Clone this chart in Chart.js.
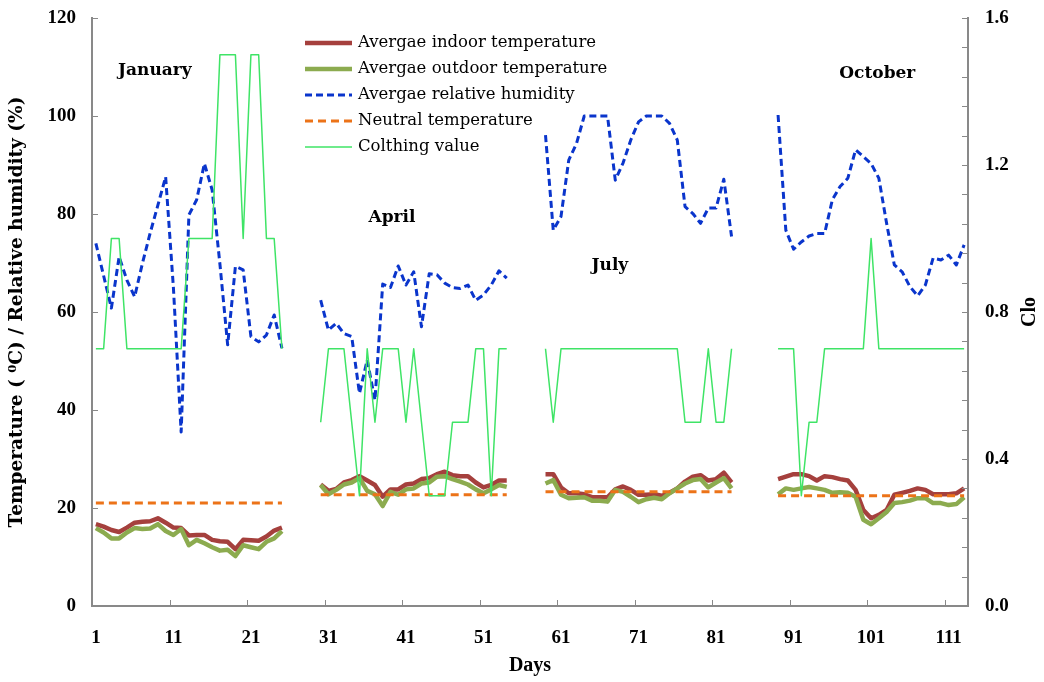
<!DOCTYPE html>
<html lang="en">
<head>
<meta charset="UTF-8" />
<title>Temperature, humidity and clothing value</title>
<script src="https://cdn.jsdelivr.net/npm/chart.js"></script>
<style>
  html, body { margin: 0; padding: 0; background: #fff; }
  #wrap { width: 1044px; height: 682px; position: relative; }
</style>
</head>
<body>
<div id="wrap"><canvas id="chart"></canvas></div>
<script>
  // first day of each measured month (days run 1..113)
  const segmentStart = [1, 30, 59, 89];
  const monthNames = ['January', 'April', 'July', 'October'];
  const xTickLabels = [1, 11, 21, 31, 41, 51, 61, 71, 81, 91, 101, 111];
  const yTicks = [0, 20, 40, 60, 80, 100, 120];
  const cloLabels = [0.0, 0.4, 0.8, 1.2, 1.6];

  const indoorJan = [16.7, 16.2, 15.5, 15.1, 16.0, 17.0, 17.2, 17.3, 17.9, 17.0, 16.0, 15.9, 14.4, 14.5, 14.5, 13.5, 13.2, 13.1, 11.6, 13.5, 13.4, 13.3, 14.2, 15.4, 16.0];
  const indoorApr = [24.8, 23.5, 23.9, 25.2, 25.7, 26.5, 25.6, 24.7, 22.3, 23.8, 23.8, 24.8, 25.0, 25.9, 26.1, 26.9, 27.4, 26.7, 26.5, 26.5, 25.2, 24.2, 24.7, 25.6, 25.6];
  const indoorJul = [26.9, 26.9, 24.2, 23.0, 23.0, 22.8, 22.2, 22.2, 22.2, 23.8, 24.4, 23.7, 22.7, 22.7, 22.8, 22.5, 23.1, 24.0, 25.4, 26.4, 26.7, 25.6, 25.9, 27.2, 25.2];
  const indoorOct = [25.9, 26.4, 26.9, 26.9, 26.5, 25.6, 26.5, 26.3, 25.9, 25.6, 23.7, 19.6, 17.9, 18.6, 19.6, 22.7, 23.1, 23.5, 24.0, 23.7, 22.8, 22.8, 22.8, 23.0, 24.0];

  const outdoorJan = [15.9, 15.0, 13.8, 13.8, 15.0, 15.9, 15.7, 15.8, 16.7, 15.3, 14.5, 15.7, 12.4, 13.5, 12.8, 12.0, 11.3, 11.5, 10.2, 12.4, 12.0, 11.6, 13.1, 13.8, 15.3];
  const outdoorApr = [24.7, 22.8, 23.7, 24.8, 25.2, 26.1, 23.5, 22.8, 20.4, 23.3, 22.7, 23.8, 24.0, 25.0, 25.2, 26.4, 26.5, 25.9, 25.4, 24.8, 23.8, 23.0, 23.8, 24.7, 24.3];
  const outdoorJul = [25.0, 25.7, 22.7, 22.0, 22.1, 22.2, 21.5, 21.5, 21.3, 23.7, 23.3, 22.3, 21.2, 21.8, 22.1, 21.8, 23.0, 24.0, 25.0, 25.7, 25.9, 24.2, 25.2, 26.1, 24.0];
  const outdoorOct = [22.8, 24.0, 23.7, 24.0, 24.3, 24.0, 23.7, 23.1, 23.2, 23.1, 22.3, 17.6, 16.7, 17.9, 19.2, 21.0, 21.2, 21.5, 22.0, 22.0, 21.0, 21.0, 20.6, 20.8, 22.2];

  const humidityJan = [74.0, 67.4, 60.8, 71.3, 66.5, 63.1, 69.9, 76.1, 81.8, 87.6, 65.0, 35.5, 79.8, 82.9, 90.3, 84.9, 69.8, 53.3, 69.3, 68.6, 55.0, 53.9, 55.3, 59.4, 52.6];
  const humidityApr = [62.4, 56.3, 57.7, 55.6, 55.0, 43.4, 50.2, 42.0, 65.7, 65.0, 69.4, 65.5, 68.2, 57.0, 67.8, 67.6, 65.9, 65.0, 64.8, 65.5, 62.4, 63.5, 65.5, 68.4, 66.9];
  const humidityJul = [96.1, 76.7, 79.5, 91.0, 94.4, 100.0, 100.0, 100.0, 100.0, 86.9, 90.4, 95.1, 98.8, 100.0, 100.0, 100.0, 98.5, 95.1, 81.5, 80.1, 78.1, 81.2, 81.2, 87.1, 75.4];
  const humidityOct = [100.2, 76.7, 72.8, 74.3, 75.5, 76.0, 76.0, 82.9, 85.6, 87.3, 93.1, 91.7, 90.3, 87.3, 78.1, 69.6, 68.2, 65.2, 63.3, 65.5, 71.0, 70.6, 71.6, 69.6, 73.7];

  const neutralTemp = [21.0, 22.7, 23.3, 22.5];

  const cloJan = [0.7, 0.7, 1.0, 1.0, 0.7, 0.7, 0.7, 0.7, 0.7, 0.7, 0.7, 0.7, 1.0, 1.0, 1.0, 1.0, 1.5, 1.5, 1.5, 1.0, 1.5, 1.5, 1.0, 1.0, 0.7];
  const cloApr = [0.5, 0.7, 0.7, 0.7, 0.5, 0.3, 0.7, 0.5, 0.7, 0.7, 0.7, 0.5, 0.7, 0.5, 0.3, 0.3, 0.3, 0.5, 0.5, 0.5, 0.7, 0.7, 0.3, 0.7, 0.7];
  const cloJul = [0.7, 0.5, 0.7, 0.7, 0.7, 0.7, 0.7, 0.7, 0.7, 0.7, 0.7, 0.7, 0.7, 0.7, 0.7, 0.7, 0.7, 0.7, 0.5, 0.5, 0.5, 0.7, 0.5, 0.5, 0.7];
  const cloOct = [0.7, 0.7, 0.7, 0.3, 0.5, 0.5, 0.7, 0.7, 0.7, 0.7, 0.7, 0.7, 1.0, 0.7, 0.7, 0.7, 0.7, 0.7, 0.7, 0.7, 0.7, 0.7, 0.7, 0.7, 0.7];

  // join the four month blocks into one series, with a break between them
  function joinMonths(blocks) {
    const pts = [];
    blocks.forEach((vals, k) => {
      vals.forEach((v, i) => pts.push({ x: segmentStart[k] + i, y: v }));
      if (k < blocks.length - 1) pts.push({ x: segmentStart[k] + vals.length, y: null });
    });
    return pts;
  }

  function neutralPoints() {
    const pts = [];
    neutralTemp.forEach((v, k) => {
      pts.push({ x: segmentStart[k], y: v });
      pts.push({ x: segmentStart[k] + indoorJan.length - 1, y: v });
      if (k < neutralTemp.length - 1) pts.push({ x: segmentStart[k] + indoorJan.length, y: null });
    });
    return pts;
  }

  const SERIF = "'Liberation Serif', serif";
  const LEGEND_FONT = "'DejaVu Serif', serif";
  const AXIS = '#898989';

  // small tick marks pointing into the plot, like the original
  const innerTicks = {
    id: 'innerTicks',
    afterDraw(chart) {
      const { ctx } = chart;
      const { x, y, y2 } = chart.scales;
      ctx.save();
      ctx.strokeStyle = AXIS;
      ctx.lineWidth = 1;
      ctx.beginPath();
      x.ticks.forEach(t => {
        const px = Math.round(x.getPixelForValue(t.value)) + 0.5;
        ctx.moveTo(px, x.top); ctx.lineTo(px, x.top - 6);
      });
      y.ticks.forEach(t => {
        const py = Math.round(y.getPixelForValue(t.value)) + 0.5;
        ctx.moveTo(y.right, py); ctx.lineTo(y.right + 6, py);
      });
      y2.ticks.forEach(t => {
        const py = Math.round(y2.getPixelForValue(t.value)) + 0.5;
        ctx.moveTo(y2.left, py); ctx.lineTo(y2.left - 6, py);
      });
      ctx.stroke();
      ctx.restore();
    }
  };

  const monthAt = [[8.6, 109.2], [39.2, 79.2], [67.3, 69.4], [101.8, 108.6]];

  const annotations = {
    id: 'annotations',
    afterDraw(chart) {
      const { ctx } = chart;
      const { x, y } = chart.scales;
      ctx.save();
      ctx.fillStyle = '#000';
      ctx.textAlign = 'center';
      ctx.textBaseline = 'middle';
      ctx.font = "bold 17px 'DejaVu Serif', serif";
      monthNames.forEach((m, i) => {
        ctx.fillText(m, x.getPixelForValue(monthAt[i][0]), y.getPixelForValue(monthAt[i][1]));
      });

      // secondary axis title
      ctx.font = 'bold 20px ' + SERIF;
      ctx.translate(1030, (chart.chartArea.top + chart.chartArea.bottom) / 2);
      ctx.rotate(-Math.PI / 2);
      ctx.fillText('Clo', 0, 0);
      ctx.restore();

      // legend inside the plot
      ctx.save();
      ctx.font = '16.5px ' + LEGEND_FONT;
      ctx.textBaseline = 'middle';
      ctx.textAlign = 'left';
      chart.data.datasets.forEach((ds, i) => {
        const ly = 43 + i * 26;
        ctx.strokeStyle = ds.borderColor;
        ctx.lineWidth = ds.borderWidth;
        ctx.setLineDash(ds.borderDash || []);
        ctx.beginPath();
        ctx.moveTo(305, ly); ctx.lineTo(352, ly);
        ctx.stroke();
        ctx.setLineDash([]);
        ctx.fillStyle = '#000';
        ctx.fillText(ds.label, 358, ly);
      });
      ctx.restore();
    }
  };

  new Chart(document.getElementById('chart'), {
    type: 'line',
    data: {
      datasets: [
        { label: 'Avergae indoor temperature', data: joinMonths([indoorJan, indoorApr, indoorJul, indoorOct]),
          borderColor: '#a5403d', borderWidth: 4.5, yAxisID: 'y', order: 4 },
        { label: 'Avergae outdoor temperature', data: joinMonths([outdoorJan, outdoorApr, outdoorJul, outdoorOct]),
          borderColor: '#8cab4f', borderWidth: 4.5, yAxisID: 'y', order: 3 },
        { label: 'Avergae relative humidity', data: joinMonths([humidityJan, humidityApr, humidityJul, humidityOct]),
          borderColor: '#0a35cc', borderWidth: 3, borderDash: [7, 4], yAxisID: 'y', order: 2 },
        { label: 'Neutral temperature', data: neutralPoints(),
          borderColor: '#ec7318', borderWidth: 3, borderDash: [8, 5], yAxisID: 'y', order: 1 },
        { label: 'Colthing value', data: joinMonths([cloJan, cloApr, cloJul, cloOct]),
          borderColor: '#3fe466', borderWidth: 1.5, yAxisID: 'y2', order: 0 }
      ]
    },
    options: {
      responsive: true,
      maintainAspectRatio: false,
      animation: false,
      spanGaps: false,
      elements: {
        point: { radius: 0, hoverRadius: 0 },
        line: { tension: 0, borderCapStyle: 'butt', borderJoinStyle: 'round' }
      },
      layout: { padding: { top: 18, left: 0, right: 0, bottom: 0 } },
      plugins: {
        legend: { display: false },
        tooltip: { enabled: false }
      },
      scales: {
        x: {
          type: 'linear',
          min: 0.5,
          max: 113.5,
          afterBuildTicks: s => { s.ticks = xTickLabels.map(d => ({ value: d - 0.5 })); },
          afterFit: s => { s.height = 76; },
          grid: { display: false, drawTicks: true, tickLength: 17 },
          border: { color: AXIS, width: 2 },
          ticks: {
            autoSkip: false, maxRotation: 0, padding: 4, labelOffset: 3.9,
            color: '#000', font: { family: SERIF, size: 19, weight: 'bold' },
            callback: v => String(v + 0.5)
          },
          title: { display: true, text: 'Days', color: '#000', padding: { top: 0, bottom: 4 },
                   font: { family: SERIF, size: 20, weight: 'bold' } }
        },
        y: {
          position: 'left',
          min: 0,
          max: 120,
          afterBuildTicks: s => { s.ticks = yTicks.map(v => ({ value: v })); },
          afterFit: s => { s.width = 92; },
          grid: { display: false, drawTicks: true, tickLength: 16 },
          border: { color: AXIS, width: 2 },
          ticks: { padding: 0, color: '#000', font: { family: SERIF, size: 19, weight: 'bold' } },
          title: { display: true, text: 'Temperature ( \u2070C) / Relative humidity (%)', color: '#000',
                   padding: { top: 6, bottom: 0 }, font: { family: "'DejaVu Serif', serif", size: 18.5, weight: 'bold' } }
        },
        y2: {
          position: 'right',
          min: 0,
          max: 1.6,
          afterBuildTicks: s => {
            const t = [];
            for (let i = 0; i <= 20; i++) t.push({ value: i * 0.08 });
            s.ticks = t;
          },
          afterFit: s => { s.width = 76; },
          grid: { display: false, drawTicks: true, tickLength: 17 },
          border: { color: AXIS, width: 2 },
          ticks: {
            padding: 0, color: '#000', font: { family: SERIF, size: 19, weight: 'bold' },
            callback: v => {
              const hit = cloLabels.find(c => Math.abs(c - v) < 1e-6);
              return hit === undefined ? '' : hit.toFixed(1);
            }
          }
        }
      }
    },
    plugins: [innerTicks, annotations]
  });
</script>
</body>
</html>
